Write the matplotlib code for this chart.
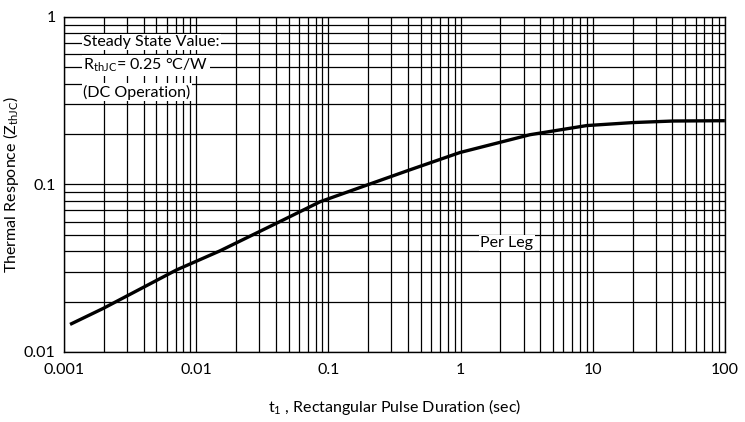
import numpy as np
import matplotlib
matplotlib.use("Agg")
import matplotlib.pyplot as plt
from matplotlib.ticker import LogLocator, FixedFormatter, FixedLocator, NullFormatter

plt.rcParams['font.family'] = ['Lato', 'DejaVu Sans']
plt.rcParams['mathtext.fontset'] = 'custom'
plt.rcParams['mathtext.rm'] = 'Lato'
plt.rcParams['mathtext.it'] = 'Lato'

# transient thermal impedance, per leg
t_pulse = [0.00111, 0.00198, 0.00711, 0.0151, 0.0456, 0.0865, 0.207, 0.414,
           0.989, 3.35, 9.0, 20.2, 40.6, 100.0]
z_thjc = [0.0146, 0.0182, 0.0309, 0.0401, 0.0614, 0.0788, 0.1007, 0.1222,
          0.155, 0.198, 0.2245, 0.234, 0.239, 0.240]

x_ticks = [0.001, 0.01, 0.1, 1, 10, 100]
x_labels = ['0.001', '0.01', '0.1', '1', '10', '100']
y_ticks = [0.01, 0.1, 1]
y_labels = ['0.01', '0.1', '1']

fig = plt.figure(figsize=(7.45, 4.22), dpi=100)
ax = fig.add_axes([0.086, 0.166, 0.887, 0.794])

ax.plot(t_pulse, z_thjc, color='black', lw=2.4, solid_joinstyle='round',
        solid_capstyle='butt', zorder=4)

ax.set_xscale('log')
ax.set_yscale('log')
ax.set_xlim(0.001, 100)
ax.set_ylim(0.01, 1)

ax.xaxis.set_major_locator(FixedLocator(x_ticks))
ax.xaxis.set_major_formatter(FixedFormatter(x_labels))
ax.yaxis.set_major_locator(FixedLocator(y_ticks))
ax.yaxis.set_major_formatter(FixedFormatter(y_labels))
ax.xaxis.set_minor_locator(LogLocator(base=10, subs=np.arange(2, 10)))
ax.yaxis.set_minor_locator(LogLocator(base=10, subs=np.arange(2, 10)))
ax.xaxis.set_minor_formatter(NullFormatter())
ax.yaxis.set_minor_formatter(NullFormatter())

ax.grid(True, which='both', color='black', lw=0.9)
ax.tick_params(which='both', length=0, labelsize=11.5, colors='black')
ax.tick_params(axis='x', pad=8)
ax.tick_params(axis='y', pad=6)
for s in ax.spines.values():
    s.set_color('black')
    s.set_linewidth(1.0)

ax.set_xlabel(r't$_{1}$ , Rectangular Pulse Duration (sec)', fontsize=11.5, labelpad=14)
ax.set_ylabel(r'Thermal Responce (Z$_{\mathrm{thJC}}$)', fontsize=11.5, labelpad=2)

box = dict(facecolor='white', edgecolor='none', pad=1.0)
ax.text(0.029, 0.925, 'Steady State Value:', transform=ax.transAxes,
        fontsize=11.5, va='center', ha='left', bbox=box, zorder=5)
ax.text(0.029, 0.855, r'R$_{\mathrm{thJC}}$= 0.25 °C/W', transform=ax.transAxes,
        fontsize=11.5, va='center', ha='left', bbox=box, zorder=5)
ax.text(0.029, 0.775, '(DC Operation)', transform=ax.transAxes,
        fontsize=11.5, va='center', ha='left', bbox=box, zorder=5)
ax.text(0.63, 0.325, 'Per Leg', transform=ax.transAxes,
        fontsize=11.5, va='center', ha='left', bbox=box, zorder=5)

fig.savefig('out.png', dpi=100)
